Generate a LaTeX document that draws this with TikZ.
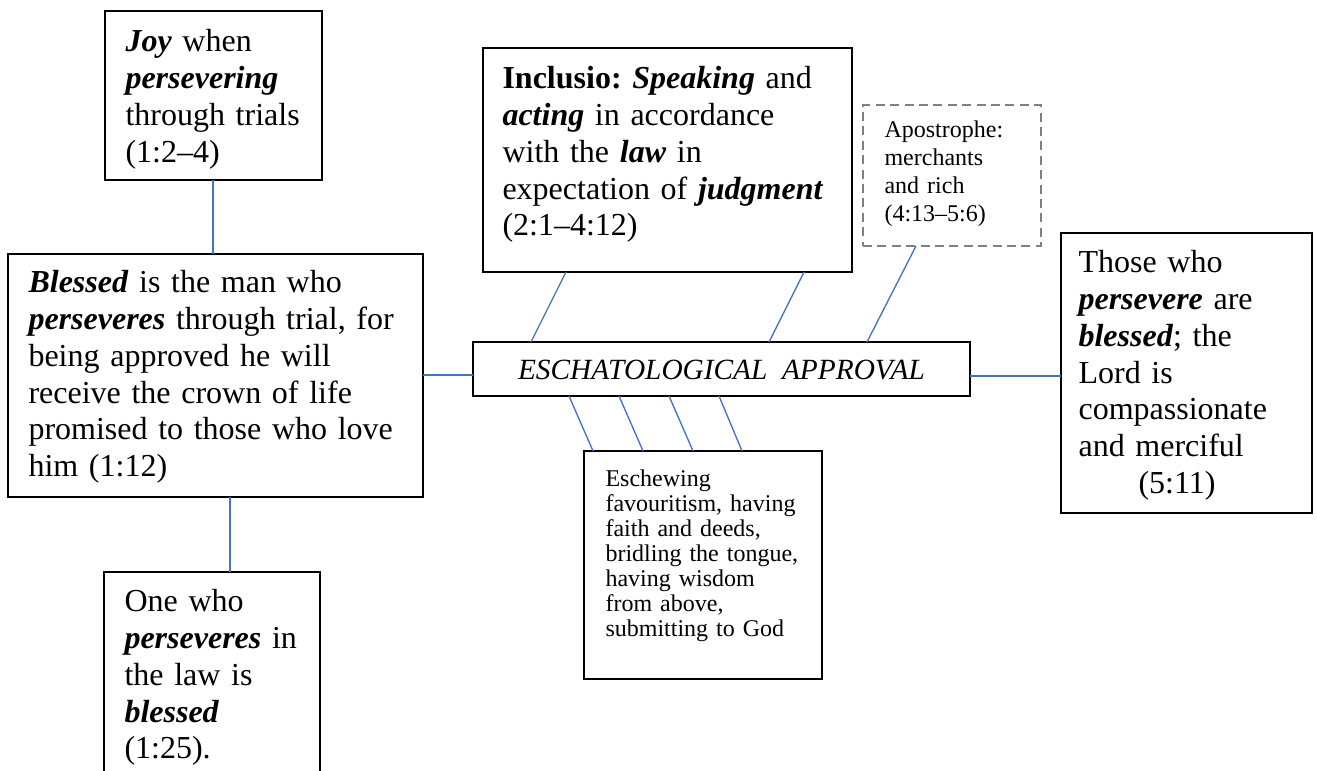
\documentclass[tikz,border=0pt]{standalone}
\usepackage{fontspec}
\setmainfont{Liberation Serif}
\usetikzlibrary{calc}
\definecolor{connblue}{RGB}{68,114,196}
\definecolor{dashgray}{RGB}{128,128,128}
\newcommand\BI[1]{\textbf{\textit{#1}}}
\newcommand\MkBox[6][]{\node[boxst,#1,anchor=north west,minimum width={(#4-#2)*0.375pt},minimum height={(#5-#3)*0.375pt}] (#6) at (#2,#3) {};}
\tikzset{
  boxst/.style={draw=black,line width=0.8pt,inner sep=0pt,outer sep=0pt,fill=white},
  dashbox/.style={draw=dashgray,dash pattern=on 3.4pt off 2pt,line width=0.75pt},
  conn/.style={draw=connblue,line width=0.5pt},
  bigtext/.style={anchor=base west,inner sep=0pt,text width=250pt,align=left,font=\fontsize{12}{13.76}\selectfont},
  smalltext/.style={anchor=base west,inner sep=0pt,text width=150pt,align=left,font=\fontsize{9}{10.4}\selectfont},
  smalltextb/.style={anchor=base west,inner sep=0pt,text width=150pt,align=left,font=\fontsize{9}{9.375}\selectfont}
}
\frenchspacing
\begin{document}
\frenchspacing
\begin{tikzpicture}[x=0.375pt,y=-0.375pt]
\useasboundingbox (0,0) rectangle (1317,771);
\clip (0,0) rectangle (1317,771);
% boxes
\MkBox{105}{11}{322}{180}{joy}
\MkBox{8}{254}{423}{497}{bless}
\MkBox{104}{572}{320}{800}{one}
\MkBox{483}{48}{852}{272}{inc}
\MkBox[dashbox]{863}{105}{1041}{246}{apos}
\MkBox{473}{342}{970}{396}{esch}
\MkBox{1061}{233}{1312}{513}{those}
\MkBox{584}{451}{822}{679}{eschew}
% texts
\node[bigtext] (tjoy) at (125,52) {\BI{Joy} when\\ \BI{persevering}\\ through trials\\ (1:2–4)};
\node[bigtext] (tbless) at (28,293) {\BI{Blessed} is the man who\\ \BI{perseveres} through trial, for\\ being approved he will\\ receive the crown of life\\ promised to those who love\\ him (1:12)};
\node[bigtext] (tone) at (124,612) {One who\\ \BI{perseveres} in\\ the law is\\ \BI{blessed}\\ (1:25).};
\node[bigtext] (tinc) at (502,89) {\textbf{Inclusio:} \BI{Speaking} and\\ \BI{acting} in accordance\\ with the \BI{law} in\\ expectation of \BI{judgment}\\ (2:1–4:12)};
\node[smalltext] (tapos) at (884,138) {Apostrophe:\\ merchants\\ and rich\\ (4:13–5:6)};
\node[anchor=base,inner sep=0pt,font=\fontsize{11}{13}\selectfont\itshape] (tesch) at (721.5,380) {ESCHATOLOGICAL\ \ APPROVAL};
\node[bigtext] (tthose) at (1078,273) {Those who\\ \BI{persevere} are\\ \BI{blessed}; the\\ Lord is\\ compassionate\\ and merciful\\ \hspace*{22.5pt}(5:11)};
\node[smalltextb] (teschew) at (605,487) {Eschewing\\ favouritism, having\\ faith and deeds,\\ bridling the tongue,\\ having wisdom\\ from above,\\ submitting to God};
% connectors
\draw[conn] ($(joy.south west)+(108,0)$) -- ($(bless.north west)+(205,0)$);
\draw[conn] ($(bless.south west)+(222,0)$) -- ($(one.north west)+(126,0)$);
\draw[conn] ($(bless.north east)+(0,121)$) -- ($(esch.north west)+(0,33)$);
\draw[conn] ($(esch.north east)+(0,34)$) -- ($(those.north west)+(0,143)$);
\draw[conn] ($(inc.south west)+(83,0)$) -- ($(esch.north west)+(58,0)$);
\draw[conn] ($(inc.south west)+(321,0)$) -- ($(esch.north west)+(296,0)$);
\draw[conn] ($(apos.south west)+(53,0)$) -- ($(esch.north west)+(394,0)$);
\draw[conn] ($(esch.south west)+(96,0)$) -- ($(eschew.north west)+(9,0)$);
\draw[conn] ($(esch.south west)+(146,0)$) -- ($(eschew.north west)+(59,0)$);
\draw[conn] ($(esch.south west)+(196,0)$) -- ($(eschew.north west)+(109,0)$);
\draw[conn] ($(esch.south west)+(246,0)$) -- ($(eschew.north west)+(158,0)$);
\end{tikzpicture}
\end{document}
